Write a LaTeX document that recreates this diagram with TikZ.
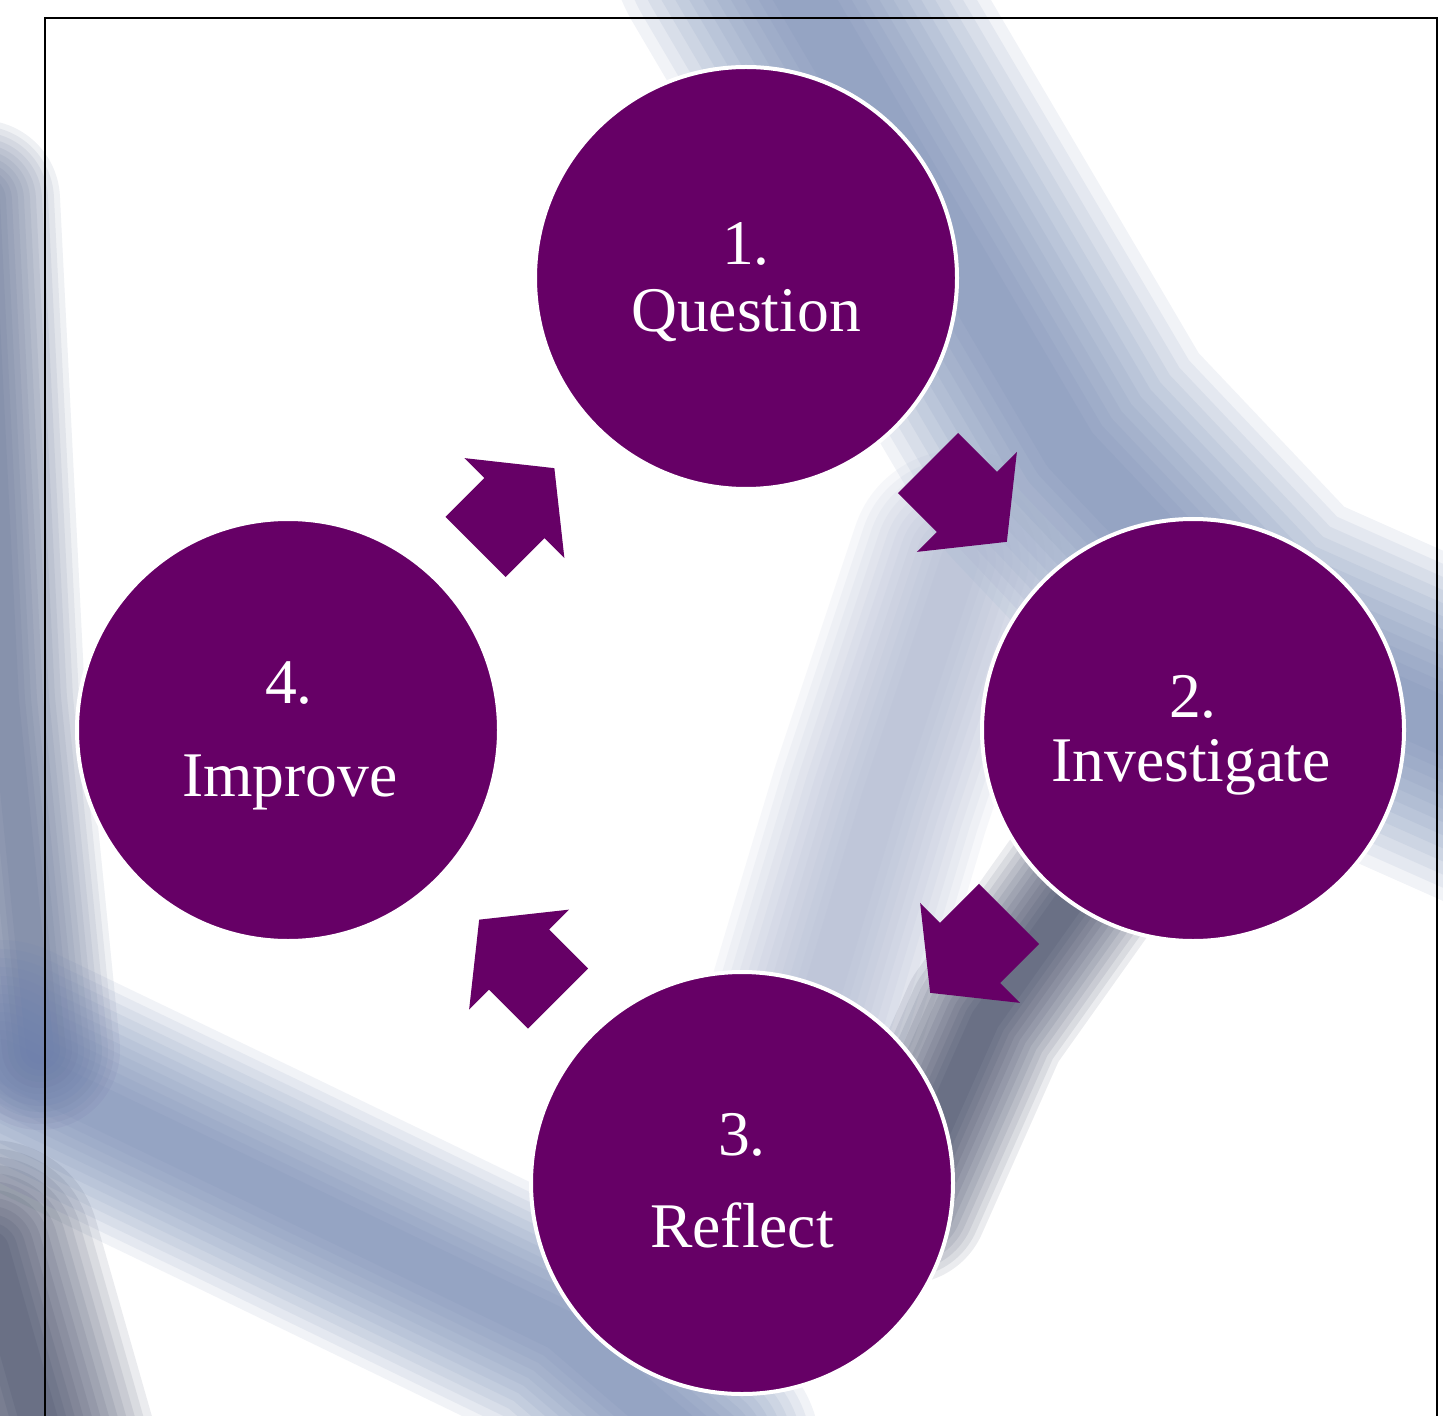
\documentclass[tikz,border=0pt]{standalone}
\usepackage{fontspec}
\setmainfont{Liberation Serif}
\definecolor{plum}{RGB}{102,0,102}
\definecolor{bandblue}{RGB}{105,125,172}
\definecolor{banddark}{RGB}{40,50,80}
\newcommand\softband[3]{%
  \foreach \f in {2.0,1.85,1.7,1.55,1.4,1.25,1.1,0.95,0.8,0.65,0.5,0.35}{%
    \draw[#1,opacity=0.09,line width=\f*#2pt,line cap=round,line join=round] #3;}}
\tikzset{
  stepcircle/.style={circle,fill=plum,draw=white,line width=2pt,minimum size=211pt,inner sep=0pt},
  steptext/.style={anchor=base,text=white,inner sep=0pt,font=\fontsize{31.8}{38}\selectfont},
  cyclearrow/.pic={\fill[plum] (0,42.5) -- (55,42.5) -- (55,70.7) -- (111.5,0) -- (55,-70.7) -- (55,-42.5) -- (0,-42.5) -- cycle;}
}
\begin{document}
\begin{tikzpicture}[x=0.5pt,y=0.5pt]
\useasboundingbox (0,0) rectangle (1443,-1416);
\fill[white] (0,0) rectangle (1443,-1416);
% blurred photographic background
\begin{scope}
\clip (0,0) rectangle (1443,-1416);
\softband{bandblue}{80}{(770,60) -- (1070,-450) -- (1250,-640) -- (1520,-760)}
\softband{bandblue!60!white}{55}{(960,-560) -- (880,-800) -- (820,-1000)}
\softband{banddark}{42}{(1120,-830) -- (985,-1020) -- (905,-1200)}
\softband{bandblue!80!black}{40}{(-20,-200) -- (5,-700) -- (40,-1050)}
\softband{bandblue}{60}{(0,-1060) -- (250,-1180) -- (560,-1330) -- (700,-1450)}
\softband{banddark}{55}{(-10,-1250) -- (50,-1460)}
\end{scope}
% frame
\draw[black,line width=1.3pt] (45,-1430) -- (45,-18) -- (1437,-18) -- (1437,-1430);
% circles
\node[stepcircle] (q) at (746,-278) {};
\node[stepcircle] (inv) at (1193,-730) {};
\node[stepcircle] (ref) at (742,-1183) {};
\node[stepcircle] (imp) at (288,-730) {};
% texts
\node[steptext] (qa) at (746,-265) {1.};
\node[steptext] (qb) at (746,-332) {Question};
\node[steptext] (inva) at (1193,-717) {2.};
\node[steptext] (invb) at (1191,-781) {Investigate};
\node[steptext] (refa) at (742,-1155) {3.};
\node[steptext] (refb) at (742,-1247) {Reflect};
\node[steptext] (impa) at (289,-703) {4.};
\node[steptext] (impb) at (290,-796) {Improve};
% cycle arrows
\pic[rotate=-45] (a1) at (928,-463) {cyclearrow};
\pic[rotate=-135] (a2) at (1009,-914) {cyclearrow};
\pic[rotate=135] (a3) at (558,-998.5) {cyclearrow};
\pic[rotate=45] (a4) at (475.5,-547) {cyclearrow};
\end{tikzpicture}
\end{document}
